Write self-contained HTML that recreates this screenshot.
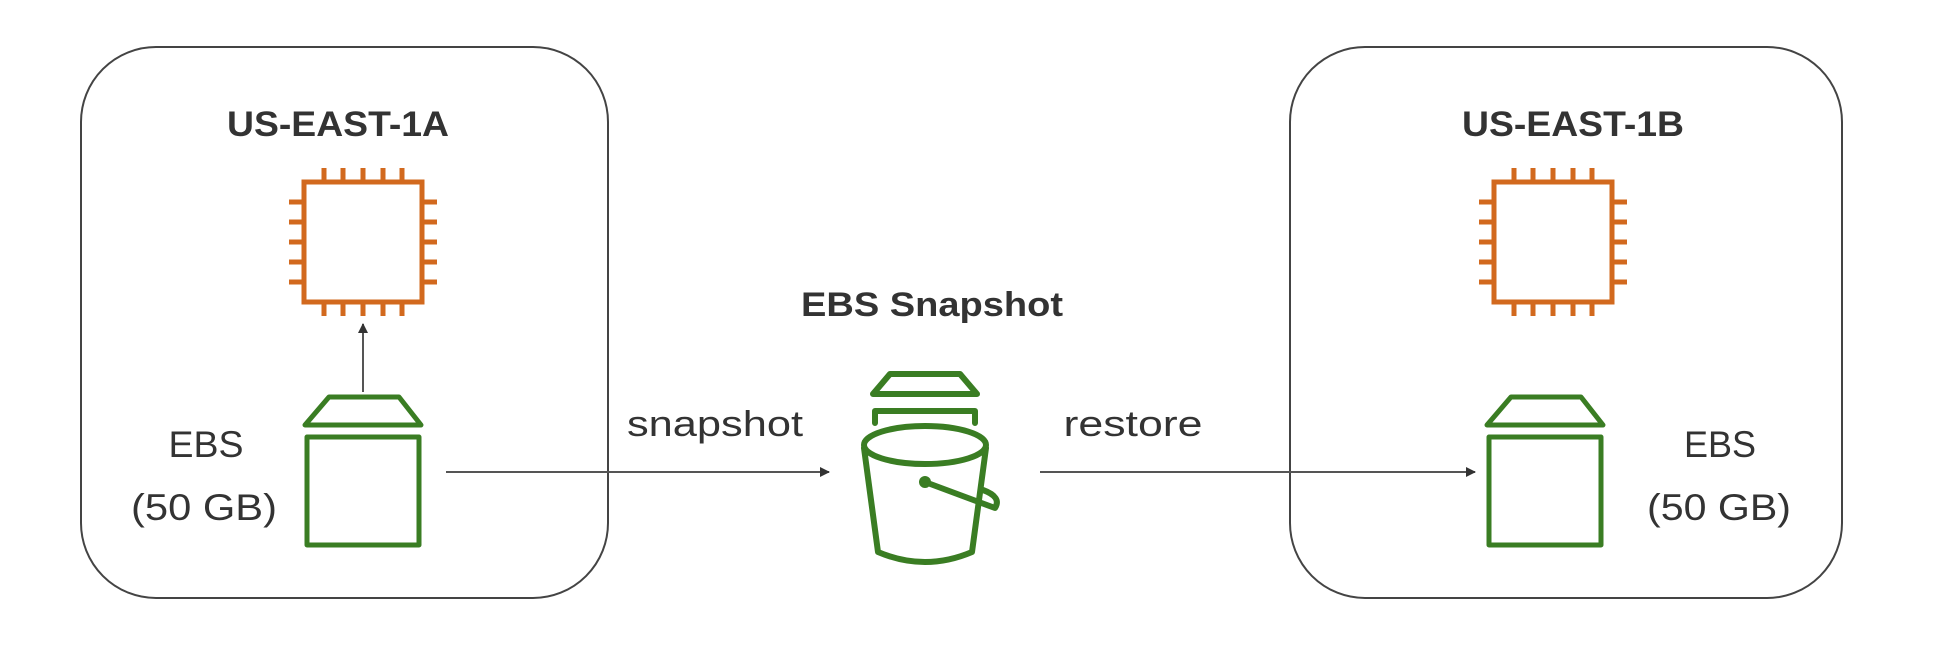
<!DOCTYPE html>
<html><head><style>
html,body{margin:0;padding:0;background:#fff;}
svg{display:block}
text{font-family:"Liberation Sans",sans-serif;fill:#333;}
</style></head><body>
<svg width="1950" height="662" viewBox="0 0 1950 662" xmlns="http://www.w3.org/2000/svg">
<defs>
<marker id="ah" markerWidth="10" markerHeight="10" refX="9" refY="5" orient="auto" markerUnits="userSpaceOnUse">
<path d="M0,0 L10,5 L0,10 z" fill="#333"/>
</marker>
<g id="chip" fill="none" stroke="#d2691e" stroke-width="5">
<rect x="0" y="0" width="118" height="120"/>
<path d="M20,0v-14M39,0v-14M59,0v-14M79,0v-14M98,0v-14 M20,120v14M39,120v14M59,120v14M79,120v14M98,120v14 M0,20h-15M0,40h-15M0,60h-15M0,80h-15M0,100h-15 M118,20h15M118,40h15M118,60h15M118,80h15M118,100h15"/>
</g>
<g id="ebs" fill="none" stroke="#3a7d23" stroke-width="5" stroke-linejoin="round">
<path d="M24,0 H94 L116,28 H0 Z"/>
<rect x="2" y="40" width="112" height="108"/>
</g>
</defs>
<rect x="81" y="47" width="527" height="551" rx="75" fill="none" stroke="#444" stroke-width="2"/>
<rect x="1296" y="47" width="552" height="551" rx="75" fill="none" stroke="#444" stroke-width="2" transform="translate(-6,0)"/>
<text x="338" y="136" font-size="35" font-weight="bold" text-anchor="middle" textLength="222" lengthAdjust="spacingAndGlyphs">US-EAST-1A</text>
<text x="1573" y="136" font-size="35" font-weight="bold" text-anchor="middle" textLength="222" lengthAdjust="spacingAndGlyphs">US-EAST-1B</text>
<use href="#chip" x="304" y="182"/>
<use href="#chip" x="1494" y="182"/>
<use href="#ebs" x="305" y="397"/>
<use href="#ebs" x="1487" y="397"/>
<line x1="363" y1="392" x2="363" y2="324" stroke="#555" stroke-width="2" marker-end="url(#ah)"/>
<text x="206" y="457" font-size="37" text-anchor="middle" textLength="75" lengthAdjust="spacingAndGlyphs">EBS</text>
<text x="204" y="520" font-size="37" text-anchor="middle" textLength="146" lengthAdjust="spacingAndGlyphs">(50 GB)</text>
<text x="1720" y="457" font-size="37" text-anchor="middle" textLength="72" lengthAdjust="spacingAndGlyphs">EBS</text>
<text x="1719" y="520" font-size="37" text-anchor="middle" textLength="144" lengthAdjust="spacingAndGlyphs">(50 GB)</text>
<text x="932" y="316" font-size="34" font-weight="bold" text-anchor="middle" textLength="262" lengthAdjust="spacingAndGlyphs">EBS Snapshot</text>
<text x="715" y="436" font-size="36" text-anchor="middle" textLength="176" lengthAdjust="spacingAndGlyphs">snapshot</text>
<text x="1133" y="436" font-size="36" text-anchor="middle" textLength="139" lengthAdjust="spacingAndGlyphs">restore</text>
<line x1="446" y1="472" x2="829" y2="472" stroke="#555" stroke-width="2" marker-end="url(#ah)"/>
<line x1="1040" y1="472" x2="1475" y2="472" stroke="#555" stroke-width="2" marker-end="url(#ah)"/>
<g fill="none" stroke="#3a7d23" stroke-width="6" stroke-linejoin="round" stroke-linecap="round">
<path d="M890,374 H960 L977,394 H873 Z"/>
<path d="M875,423 V411 H975 V423"/>
<ellipse cx="925" cy="445" rx="61" ry="19"/>
<path d="M864,448 L878,552 Q925,572 972,552 L986,448"/>
<path d="M925,482 L995,508 Q1002,497 983,490"/>
</g>
<circle cx="925" cy="482" r="6" fill="#3a7d23"/>
</svg>
</body></html>
